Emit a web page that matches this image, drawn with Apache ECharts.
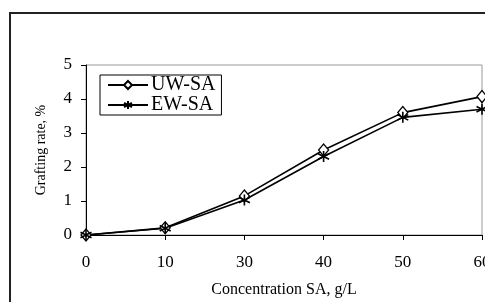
<!DOCTYPE html>
<html>
<head>
<meta charset="utf-8">
<script src="https://cdn.jsdelivr.net/npm/echarts@6/dist/echarts.min.js"></script>
<style>
  html, body { margin: 0; padding: 0; background: #fff; }
  #chart { width: 485px; height: 302px; }
</style>
</head>
<body>
<div id="chart"></div>
<script>
const categories = ["0", "10", "30", "40", "50", "60"];
const uwSa = [0, 0.21, 1.15, 2.5, 3.6, 4.07];
const ewSa = [0, 0.2, 1.03, 2.31, 3.46, 3.7];
const yTicks = { min: 0, max: 5, interval: 1 };

const serif = "Liberation Serif";
const asterisk = "path://M5,0L5,10M0.7,2.5L9.3,7.5M0.7,7.5L9.3,2.5";

const chart = echarts.init(document.getElementById("chart"));
chart.setOption({
  animation: false,
  textStyle: { fontFamily: serif, color: "#000" },
  graphic: [{
    type: "rect",
    shape: { x: 10, y: 13, width: 490, height: 310 },
    style: { fill: "none", stroke: "#222", lineWidth: 2 },
    silent: true
  }],
  grid: {
    left: 86, top: 65, right: 3, bottom: 67,
    outerBoundsMode: "none",
    show: true, borderColor: "#999", borderWidth: 1
  },
  legend: {
    orient: "vertical",
    left: 100,
    top: 75,
    padding: [0, 6, 0, 7],
    itemGap: 0,
    itemWidth: 40,
    itemHeight: 10,
    borderColor: "#000",
    borderWidth: 1,
    textStyle: { fontFamily: serif, fontSize: 20, lineHeight: 18, color: "#000", padding: [0, 0, 0, -2] },
    data: ["UW-SA", "EW-SA"]
  },
  xAxis: {
    type: "category",
    data: categories,
    boundaryGap: false,
    name: "Concentration SA, g/L",
    nameLocation: "middle",
    nameGap: 47,
    nameTextStyle: { fontFamily: serif, fontSize: 16, color: "#000" },
    axisLine: { lineStyle: { color: "#000", width: 1 } },
    axisTick: { length: 5, lineStyle: { color: "#000" } },
    axisLabel: { margin: 19, fontFamily: serif, fontSize: 17, color: "#000" },
    splitLine: { show: false }
  },
  yAxis: {
    type: "value",
    min: yTicks.min,
    max: yTicks.max,
    interval: yTicks.interval,
    name: "Grafting rate, %",
    nameLocation: "middle",
    nameGap: 38,
    nameTextStyle: { fontFamily: serif, fontSize: 14, color: "#000" },
    axisLine: { show: true, lineStyle: { color: "#000", width: 1 } },
    axisTick: { show: true, length: 5, lineStyle: { color: "#000" } },
    axisLabel: { margin: 14, fontFamily: serif, fontSize: 17, color: "#000" },
    splitLine: { show: false }
  },
  series: [
    {
      name: "UW-SA",
      type: "line",
      data: uwSa,
      symbol: "diamond",
      symbolSize: [10, 12],
      showAllSymbol: true,
      lineStyle: { color: "#000", width: 1.6 },
      itemStyle: { color: "#fff", borderColor: "#000", borderWidth: 1.3 }
    },
    {
      name: "EW-SA",
      type: "line",
      data: ewSa,
      symbol: asterisk,
      symbolSize: 11,
      showAllSymbol: true,
      lineStyle: { color: "#000", width: 1.6 },
      itemStyle: { color: "#000", borderColor: "#000", borderWidth: 1.6 }
    }
  ]
});
</script>
</body>
</html>
